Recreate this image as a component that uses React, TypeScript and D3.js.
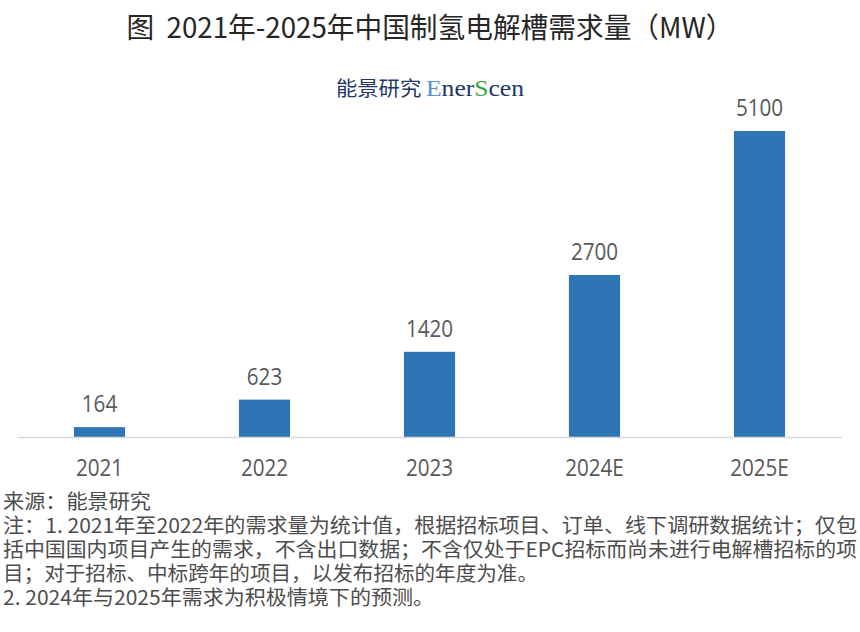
import { useEffect, useRef } from "react"
import * as d3 from "d3"

const years = ["2021", "2022", "2023", "2024E", "2025E"]
const demand = [164, 623, 1420, 2700, 5100]

const title = "图  2021年-2025年中国制氢电解槽需求量（MW）"
const notes = [
  "来源：能景研究",
  "注：1. 2021年至2022年的需求量为统计值，根据招标项目、订单、线下调研数据统计；仅包",
  "括中国国内项目产生的需求，不含出口数据；不含仅处于EPC招标而尚未进行电解槽招标的项",
  "目；对于招标、中标跨年的项目，以发布招标的年度为准。",
  "2. 2024年与2025年需求为积极情境下的预测。",
]
// measured widths of the footnote lines in the reference
const noteWidths = [148, 854, 854, 535, 431]

const W = 860
const H = 632
const cjk = "'Noto Sans CJK SC', 'Noto Sans', sans-serif"

// squeeze a text horizontally, like the narrow font in the original
function squeeze(sel: d3.Selection<SVGTextElement, any, any, any>, k: number) {
  sel.each(function () {
    const len = this.getComputedTextLength()
    d3.select(this).attr("textLength", len * k).attr("lengthAdjust", "spacingAndGlyphs")
  })
}

export default function App() {
  const ref = useRef<SVGSVGElement>(null)

  useEffect(() => {
    const svg = d3.select(ref.current)
    svg.selectAll("*").remove()

    // title
    svg
      .append("text")
      .attr("x", W / 2)
      .attr("y", 38)
      .attr("text-anchor", "middle")
      .attr("font-family", cjk)
      .attr("font-size", 28)
      .attr("fill", "#262626")
      .attr("textLength", 607)
      .attr("lengthAdjust", "spacingAndGlyphs")
      .style("white-space", "pre")
      .text(title)

    // logo
    const serif = "'Liberation Serif', 'DejaVu Serif', serif"
    const logo = svg
      .append("text")
      .attr("x", W / 2)
      .attr("y", 96)
      .attr("text-anchor", "middle")
      .attr("textLength", 188)
      .attr("lengthAdjust", "spacingAndGlyphs")
    logo.append("tspan").attr("font-family", cjk).attr("font-size", 20).attr("fill", "#1f3864").text("能景研究 ")
    logo.append("tspan").attr("font-family", serif).attr("font-size", 24).attr("fill", "#5b8fd0").text("E")
    logo.append("tspan").attr("font-family", serif).attr("font-size", 24).attr("fill", "#1f3864").text("ner")
    logo.append("tspan").attr("font-family", serif).attr("font-size", 24).attr("fill", "#3aa33a").text("S")
    logo.append("tspan").attr("font-family", serif).attr("font-size", 24).attr("fill", "#1f3864").text("cen")

    const base = 437
    const x = d3
      .scaleBand<string>()
      .domain(years)
      .range([17, 842])
      .paddingInner(0.69)
      .paddingOuter(0.345)
    const y = d3.scaleLinear().domain([0, 5100]).range([base, 131])

    const data = years.map((yr, i) => ({ yr, v: demand[i] }))

    svg
      .selectAll(".bar")
      .data(data)
      .enter()
      .append("rect")
      .attr("class", "bar")
      .attr("fill", "#2e75b6")
      .attr("x", (d) => x(d.yr) || 0)
      .attr("width", x.bandwidth())
      .attr("y", (d) => y(d.v))
      .attr("height", (d) => base - y(d.v))

    svg
      .append("line")
      .attr("x1", 17)
      .attr("x2", 842)
      .attr("y1", base + 0.5)
      .attr("y2", base + 0.5)
      .attr("stroke", "#d9d9d9")
      .attr("stroke-width", 1.5)

    const vals = svg
      .selectAll(".val")
      .data(data)
      .enter()
      .append("text")
      .attr("class", "val")
      .attr("x", (d) => (x(d.yr) || 0) + x.bandwidth() / 2)
      .attr("y", (d) => y(d.v) - 15)
      .attr("text-anchor", "middle")
      .attr("font-family", "'Open Sans', sans-serif")
      .attr("font-size", 24)
      .attr("fill", "#595959")
      .text((d) => d.v)
    squeeze(vals as any, 0.86)

    const cats = svg
      .selectAll(".cat")
      .data(years)
      .enter()
      .append("text")
      .attr("class", "cat")
      .attr("x", (d) => (x(d) || 0) + x.bandwidth() / 2)
      .attr("y", 476)
      .attr("text-anchor", "middle")
      .attr("font-family", "'Open Sans', sans-serif")
      .attr("font-size", 24)
      .attr("fill", "#595959")
      .text((d) => d)
    squeeze(cats as any, 0.86)

    // footnotes
    notes.forEach((line, i) => {
      svg
        .append("text")
        .attr("x", 3)
        .attr("y", 509 + i * 24)
        .attr("font-family", cjk)
        .attr("font-size", 20)
        .attr("fill", "#4d4d4d")
        .attr("textLength", noteWidths[i])
        .attr("lengthAdjust", "spacingAndGlyphs")
        .text(line)
    })
  }, [])

  return (
    <svg
      ref={ref}
      width={W}
      height={H}
      style={{ display: "block", position: "absolute", left: 0, top: 0, background: "#fff" }}
    />
  )
}
